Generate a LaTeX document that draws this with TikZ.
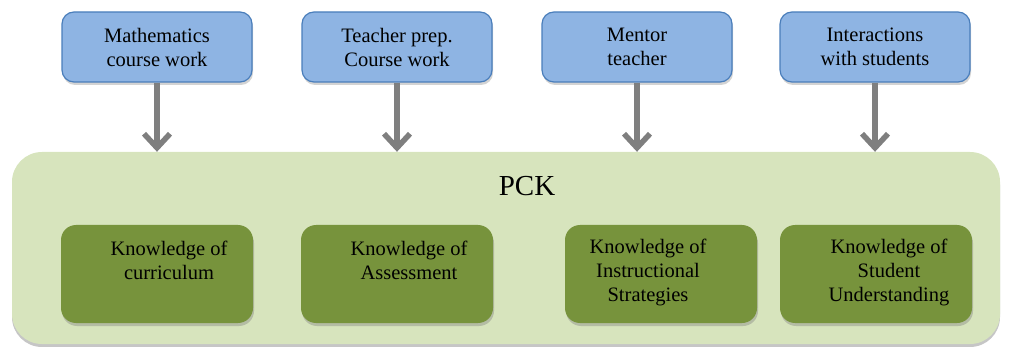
\documentclass[tikz,border=0pt]{standalone}
\usepackage{fontspec}
\setmainfont{Liberation Serif}
\newfontfamily\tnr{Liberation Serif}
\usepackage{tikz}
\usetikzlibrary{arrows.meta,shadows,positioning}

\definecolor{srcblue}{HTML}{8EB4E3}
\definecolor{srcedge}{HTML}{4A7EBB}
\definecolor{pckgreen}{HTML}{D7E4BD}
\definecolor{knowgreen}{HTML}{77933C}
\definecolor{feedgray}{HTML}{7F7F7F}

\begin{document}
\begin{tikzpicture}[
    x=1pt, y=-1pt,
    source/.style={draw=srcedge, line width=1.2pt, fill=srcblue, rounded corners=12pt,
        minimum width=190pt, minimum height=70pt, inner sep=0pt, align=center,
        font=\tnr\fontsize{20.5}{24}\selectfont,
        drop shadow={shadow xshift=1pt, shadow yshift=-3pt, opacity=0.35}},
    pck/.style={fill=pckgreen, rounded corners=30pt, minimum width=988pt, minimum height=192pt,
        inner sep=0pt, drop shadow={shadow xshift=0pt, shadow yshift=-3pt, opacity=0.45}},
    know/.style={fill=knowgreen, rounded corners=15pt, minimum width=192pt, minimum height=98pt,
        inner sep=0pt, drop shadow={shadow xshift=1pt, shadow yshift=-3pt, opacity=0.4}},
    ktext/.style={align=center, inner sep=0pt, font=\tnr\fontsize{20.5}{24}\selectfont},
    feed/.style={draw=feedgray, line width=5.5pt, -{Straight Barb[length=14pt, width=26pt]}}
]
    \useasboundingbox (0,0) rectangle (1011,347);

    % === SOURCES ===
    \node[source] (math) at (157,47) {Mathematics\\course work};
    \node[source] (prep) at (397,47) {Teacher prep.\\Course work};
    \node[source] (mentor) at (637,47) {Mentor\\teacher};
    \node[source] (inter) at (875,47) {Interactions\\with students};

    % === PCK ===
    \node[pck] (pckbox) at (506,248) {};
    \node[font=\tnr\fontsize{29}{34}\selectfont, inner sep=0pt] (pcktitle) at (527,186) {PCK};

    % === KNOWLEDGE ===
    \node[know] (curr) at (157,274) {};
    \node[know] (assess) at (397,274) {};
    \node[know] (instr) at (661,274) {};
    \node[know] (stud) at (876,274) {};

    \node[ktext] (currt) at (169,260) {Knowledge of\\curriculum};
    \node[ktext] (assesst) at (409,260) {Knowledge of\\Assessment};
    \node[ktext] (instrt) at (648,272) {Knowledge of\\Instructional\\Strategies};
    \node[ktext] (studt) at (889,272) {Knowledge of\\Student\\Understanding};

    % === ARROWS ===
    \draw[feed] (math.south) -- (math.south |- pckbox.north);
    \draw[feed] (prep.south) -- (prep.south |- pckbox.north);
    \draw[feed] (mentor.south) -- (mentor.south |- pckbox.north);
    \draw[feed] (inter.south) -- (inter.south |- pckbox.north);

\end{tikzpicture}
\end{document}
